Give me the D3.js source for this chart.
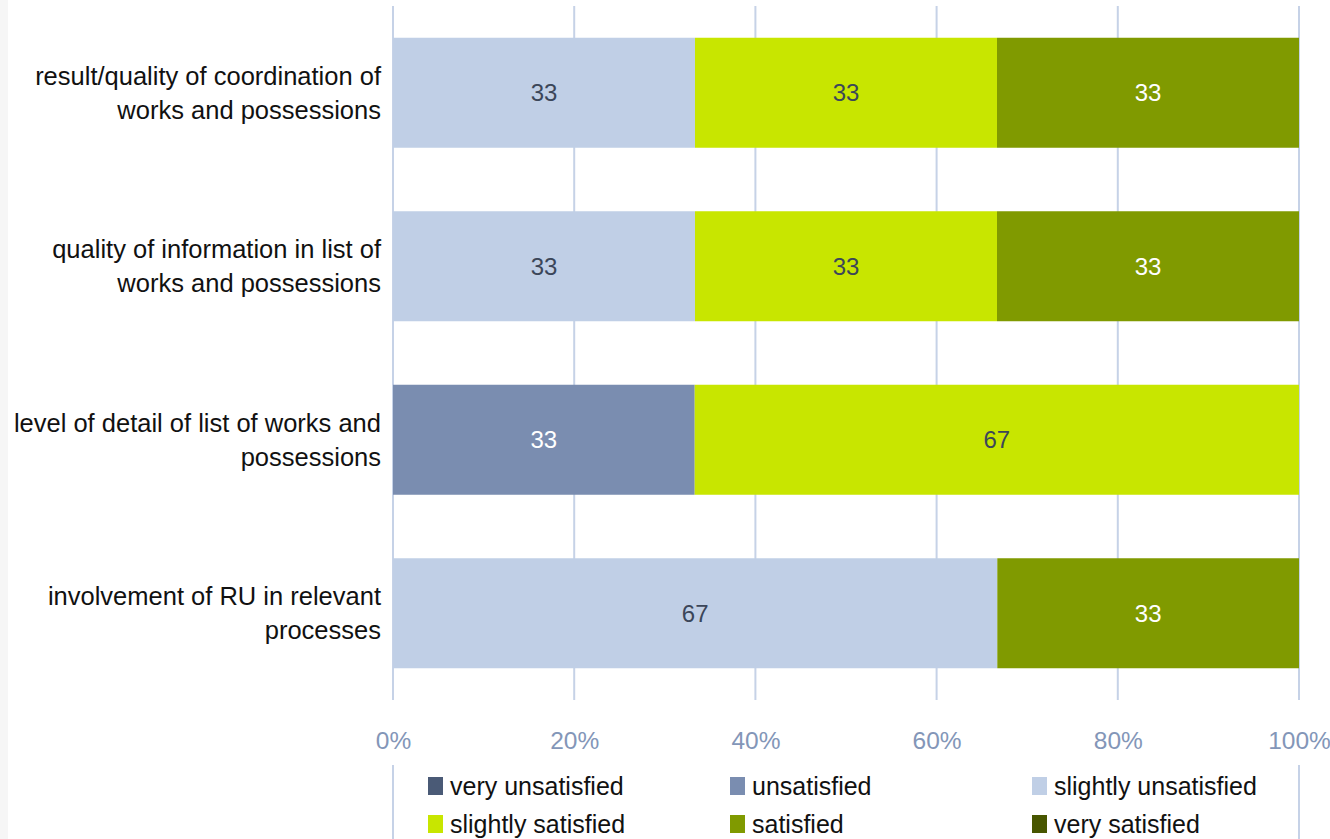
<!DOCTYPE html>
<html>
<head>
<meta charset="utf-8">
<script src="https://cdn.jsdelivr.net/npm/d3@7"></script>
<style>
  html, body { margin: 0; padding: 0; background: #fff; }
  svg { display: block; font-family: "Liberation Sans", Arial, sans-serif; }
</style>
</head>
<body>
<svg id="chart" width="1330" height="839"></svg>
<script>
// categories, top to bottom (each split into its two text lines)
let categories = [
    ["result/quality of coordination of", "works and possessions"],
    ["quality of information in list of", "works and possessions"],
    ["level of detail of list of works and", "possessions"],
    ["involvement of RU in relevant", "processes"]
];
let seriesNames = ["very unsatisfied", "unsatisfied", "slightly unsatisfied",
                   "slightly satisfied", "satisfied", "very satisfied"];
let seriesColors = ["#4a5a76", "#7a8db0", "#c0cfe6", "#c8e600", "#809a00", "#485600"];
let labelColors = ["#ffffff", "#ffffff", "#3b4659", "#3b4659", "#ffffff", "#ffffff"];
// percent per series, one array per series, same order as categories
let veryUnsatisfied = [0, 0, 0, 0];
let unsatisfied = [0, 0, 33.3, 0];
let slightlyUnsatisfied = [33.3, 33.3, 0, 66.7];
let slightlySatisfied = [33.3, 33.3, 66.7, 0];
let satisfied = [33.3, 33.3, 0, 33.3];
let verySatisfied = [0, 0, 0, 0];
let tickValues = [0, 0.2, 0.4, 0.6, 0.8, 1];

let seriesValues = [veryUnsatisfied, unsatisfied, slightlyUnsatisfied,
                    slightlySatisfied, satisfied, verySatisfied];

let rows = categories.map((c, i) => {
    let r = {idx: i};
    seriesNames.forEach((s, j) => { r[s] = seriesValues[j][i]; });
    return r;
});

let svg = d3.select("#chart");

// faint left strip
svg.append("rect").attr("x", 0).attr("y", 0).attr("width", 8).attr("height", 839)
    .style("fill", "#f6f6f6");

let x = d3.scaleLinear().domain([0, 1]).range([393, 1299]);
let y = d3.scaleBand().domain(d3.range(categories.length))
    .range([6, 700]).paddingInner(0.366).paddingOuter(0.183);

let stack = d3.stack().keys(seriesNames).offset(d3.stackOffsetExpand);
let stacked = stack(rows);

// gridlines
svg.append("g").selectAll("line").data(tickValues).join("line")
    .attr("x1", d => x(d)).attr("x2", d => x(d))
    .attr("y1", 6).attr("y2", 700)
    .style("stroke", "#c6d2e7").style("stroke-width", 2);

// legend frame lines
svg.append("g").selectAll("line").data([0, 1]).join("line")
    .attr("x1", d => x(d)).attr("x2", d => x(d))
    .attr("y1", 765).attr("y2", 839)
    .style("stroke", "#c6d2e7").style("stroke-width", 2);

// bars
let layers = svg.append("g").selectAll("g").data(stacked).join("g")
    .style("fill", (d, i) => seriesColors[i]);

layers.selectAll("rect").data(d => d.filter(p => p[1] - p[0] > 0)).join("rect")
    .attr("x", d => x(d[0]))
    .attr("width", d => x(d[1]) - x(d[0]))
    .attr("y", d => y(d.data.idx))
    .attr("height", y.bandwidth());

// value labels
stacked.forEach((layer, i) => {
    svg.append("g").selectAll("text").data(layer.filter(p => p[1] - p[0] > 0)).join("text")
        .attr("x", d => (x(d[0]) + x(d[1])) / 2)
        .attr("y", d => y(d.data.idx) + y.bandwidth() / 2)
        .attr("text-anchor", "middle")
        .attr("dy", "0.36em")
        .style("font-size", "24px")
        .style("fill", labelColors[i])
        .text(d => Math.round(d.data[layer.key]));
});

// category labels
let catG = svg.append("g");
categories.forEach((lines, i) => {
    let cy = y(i) + y.bandwidth() / 2;
    lines.forEach((t, k) => {
        catG.append("text")
            .attr("x", 381)
            .attr("y", cy + (k - 0.5) * 34)
            .attr("dy", "0.36em")
            .attr("text-anchor", "end")
            .style("font-size", "25.5px")
            .style("fill", "#111")
            .text(t);
    });
});

// x axis tick labels
let xAxis = d3.axisBottom(x).tickValues(tickValues).tickFormat(d3.format(".0%")).tickSize(0);
let axG = svg.append("g").attr("transform", "translate(0,729)").call(xAxis);
axG.select(".domain").remove();
axG.selectAll("text").style("font-size", "24.5px").style("fill", "#8396b8")
    .style("font-family", "'Liberation Sans', Arial, sans-serif");

// legend
let legendPos = [[428, 786], [730, 786], [1032, 786], [428, 824], [730, 824], [1032, 824]];
let legend = svg.append("g").selectAll("g").data(seriesNames).join("g")
    .attr("transform", (d, i) => "translate(" + legendPos[i][0] + "," + legendPos[i][1] + ")");
legend.append("rect").attr("x", 0).attr("y", -9).attr("width", 15).attr("height", 18)
    .style("fill", (d, i) => seriesColors[i]);
legend.append("text").attr("x", 22).attr("y", 0).attr("dy", "0.34em")
    .style("font-size", "25px").style("fill", "#111")
    .text(d => d);
</script>
</body>
</html>
